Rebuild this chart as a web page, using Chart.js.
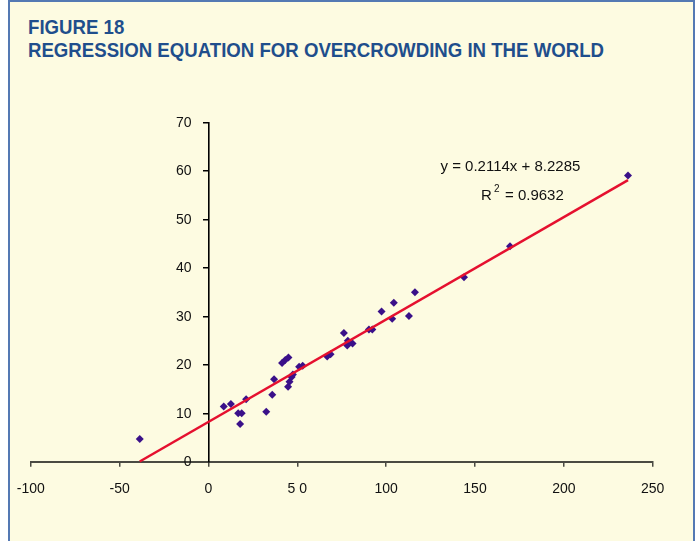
<!DOCTYPE html>
<html>
<head>
<meta charset="utf-8">
<script src="https://cdn.jsdelivr.net/npm/chart.js@4.4.1/dist/chart.umd.min.js"></script>
<style>
  html, body { margin: 0; padding: 0; background: #ffffff; width: 697px; height: 541px; overflow: hidden; }
  #card { position: absolute; left: 8px; top: 0; width: 687px; height: 580px; background: #FDFBE1;
          border: 2px solid #5479B3; box-sizing: border-box; }
  .ttl { position: absolute; left: 27.5px; font-family: "Liberation Sans Narrow", "Liberation Sans", Arial, sans-serif;
         font-weight: bold; color: #1F4E8C; font-size: 20px; line-height: 20px; white-space: nowrap; transform-origin: 0 0; }
  #wrap { position: absolute; left: 0; top: 0; width: 697px; height: 541px; }
</style>
</head>
<body>
<div id="card"></div>
<div class="ttl" id="t1" style="top:16.5px">FIGURE 18</div>
<div class="ttl" id="t2" style="top:40px">REGRESSION EQUATION FOR OVERCROWDING IN THE WORLD</div>
<div id="wrap"><canvas id="c" width="697" height="541"></canvas></div>
<script>
// Overcrowding observations (x, y pairs)
const xValues = [-38.7, 8.6, 12.6, 21.2, 16.7, 18.7, 17.8, 32.5, 35.9, 36.9,
                 41.4, 43.2, 45.0, 44.8, 45.6, 46.8, 47.5, 51.0, 53.0, 66.8,
                 68.7, 76.2, 78.4, 78.1, 81.1, 90.3, 92.2, 97.4, 104.3, 103.4,
                 112.8, 116.2, 143.8, 169.7, 236.1];
const yValues = [4.7, 11.4, 11.9, 12.9, 10.0, 10.0, 7.8, 10.3, 13.8, 17.0,
                 20.4, 21.0, 21.5, 15.5, 16.5, 17.5, 18.0, 19.6, 19.8, 21.7,
                 22.2, 26.6, 25.0, 24.0, 24.4, 27.3, 27.3, 31.0, 32.8, 29.5,
                 30.1, 35.0, 38.1, 44.5, 59.1];

// Fitted linear trend
const slope = 0.2114;
const intercept = 8.2285;
const rSquared = 0.9632;

// Axis tick labels
const xTickLabels = ['-100', '-50', '0', '5 0', '100', '150', '200', '250'];
const yTickLabels = ['0', '10', '20', '30', '40', '50', '60', '70'];

// Condense the heading to its column width
(function () {
  const t2 = document.getElementById('t2');
  const t1 = document.getElementById('t1');
  const w = t2.getBoundingClientRect().width;
  const s = 576 / w;
  t2.style.transform = 'scaleX(' + s + ')';
  t1.style.transform = 'scaleX(' + s + ')';
})();

const points = xValues.map((x, i) => ({ x: x, y: yValues[i] }));
const xMin = Math.min(...xValues), xMax = Math.max(...xValues);
const trend = [xMin, xMax].map(x => ({ x: x, y: slope * x + intercept }));

const FONT = '"Liberation Sans", Arial, sans-serif';
const tickFont = { family: FONT, size: 14 };

// Y tick labels sit to the left of the crossing axis
const yAxisLabels = {
  id: 'yAxisLabels',
  afterDraw(chart) {
    const ctx = chart.ctx;
    const ys = chart.scales.y, xs = chart.scales.x;
    const axisX = xs.getPixelForValue(0);
    ctx.save();
    ctx.fillStyle = '#111111';
    ctx.font = '14px ' + FONT;
    ctx.textAlign = 'right';
    ctx.textBaseline = 'middle';
    ys.ticks.forEach(t => {
      ctx.fillText(yTickLabels[Math.round(t.value / 10)], axisX - 17, ys.getPixelForValue(t.value) + 0.5);
    });
    ctx.restore();
  }
};

// Trend equation and R squared
const equationLabel = {
  id: 'equationLabel',
  afterDraw(chart) {
    const ctx = chart.ctx;
    ctx.save();
    ctx.fillStyle = '#111111';
    ctx.textBaseline = 'middle';
    ctx.textAlign = 'left';
    ctx.font = '15px ' + FONT;
    const eq = 'y = ' + slope.toFixed(4) + 'x + ' + intercept.toFixed(4);
    ctx.fillText(eq, 440.5, 167);
    ctx.fillText('R', 481, 195.5);
    ctx.font = '10px ' + FONT;
    ctx.fillText('2', 494, 189);
    ctx.font = '15px ' + FONT;
    ctx.fillText('= ' + rSquared.toFixed(4), 505, 195.5);
    ctx.restore();
  }
};

new Chart(document.getElementById('c'), {
  type: 'scatter',
  data: {
    datasets: [
      {
        data: trend,
        showLine: true,
        borderColor: '#E5102F',
        borderWidth: 2.5,
        pointRadius: 0,
        order: 0
      },
      {
        data: points,
        pointStyle: 'rectRot',
        pointRadius: 4,
        backgroundColor: '#3A1089',
        borderColor: '#3A1089',
        borderWidth: 0,
        order: 1
      }
    ]
  },
  options: {
    responsive: false,
    animation: false,
    devicePixelRatio: 1,
    clip: false,
    layout: { padding: { left: 30.8, right: 44.3, top: 122.7, bottom: 39.3 } },
    plugins: { legend: { display: false }, tooltip: { enabled: false } },
    scales: {
      x: {
        type: 'linear',
        position: 'bottom',
        min: -100, max: 250,
        afterFit: s => { s.height = 40; },
        border: { color: '#4A4A42', width: 2 },
        grid: { drawOnChartArea: false, drawTicks: true, tickLength: 5, color: '#4A4A42', lineWidth: 1.5 },
        ticks: {
          stepSize: 50, padding: 14, color: '#111111', font: tickFont, maxRotation: 0, autoSkip: false,
          callback: (v) => xTickLabels[Math.round((v + 100) / 50)]
        }
      },
      y: {
        type: 'linear',
        position: { x: 0 },
        min: 0, max: 70,
        afterFit: s => { s.width = 0; },
        border: { color: '#000000', width: 1.6 },
        grid: { drawOnChartArea: false, drawTicks: true, tickLength: 5, color: '#000000', lineWidth: 1.5 },
        ticks: { stepSize: 10, display: false }
      }
    }
  },
  plugins: [yAxisLabels, equationLabel]
});
</script>
</body>
</html>
